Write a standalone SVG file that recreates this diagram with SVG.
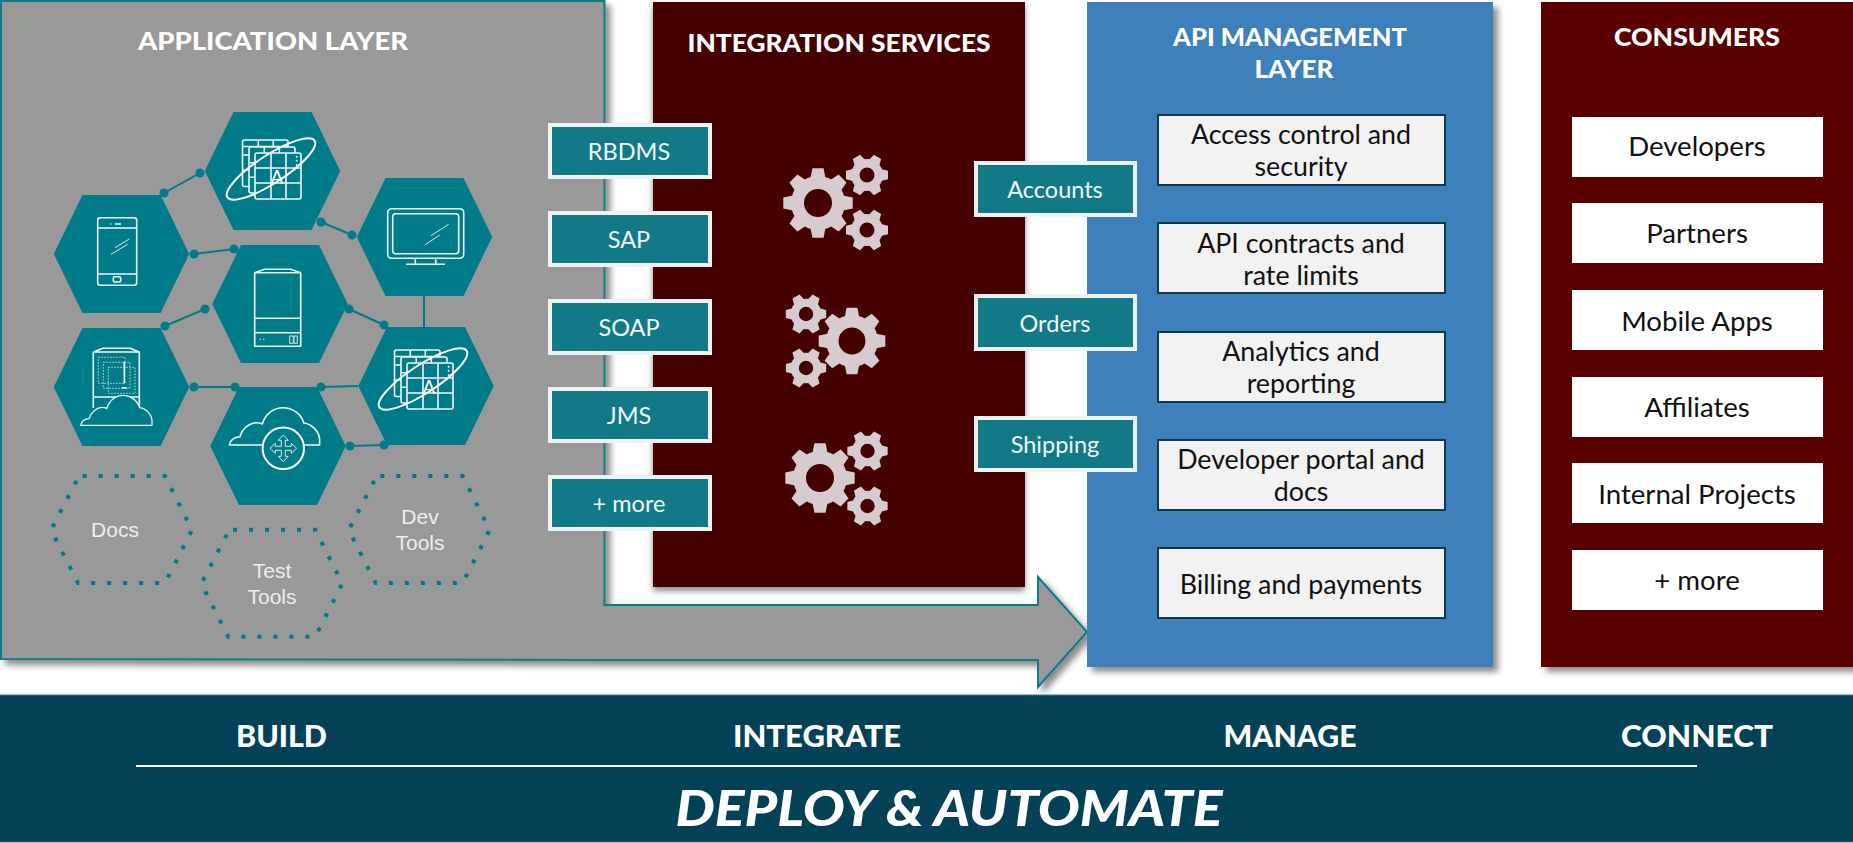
<svg xmlns="http://www.w3.org/2000/svg" xmlns:xlink="http://www.w3.org/1999/xlink" width="1853" height="843" viewBox="0 0 1853 843">
<style>
text{font-family:"Lato","Open Sans","Liberation Sans",sans-serif;text-anchor:middle}
.title{font-size:25px;font-weight:900;fill:#fff}
.stage{font-size:30px;font-weight:900;fill:#fff}
.tagt{font-size:23.5px;fill:#f2f7f8}
.boxt{font-size:26.8px;fill:#111}
.ct{font-size:27.6px;fill:#111}
.hext{font-family:"Liberation Sans",Arial,sans-serif;font-size:21px;fill:#eee}
.tag{fill:#127a87;stroke:#f1f1f1;stroke-width:4}
.api{fill:#f2f2f2;stroke:#0d3a4a;stroke-width:2}
.cons{fill:#fff}
.hex{fill:#007b8a}
.ic{fill:none;stroke:#eef6f7;stroke-width:1.6;stroke-linejoin:round}
.icf{fill:#007b8a;stroke:#eef6f7;stroke-width:1.6;stroke-linejoin:round}
.thin{fill:none;stroke:#d5e8eb;stroke-width:1}
.dotted{fill:none;stroke:#c3dadd;stroke-width:1;stroke-dasharray:1.5 1.5}
.dh{fill:none;stroke:#007b8a;stroke-width:4;stroke-dasharray:4 12;stroke-dashoffset:-3.7}
.gear{fill:#d6cbce}
.conn{stroke:#007b8a;stroke-width:2;fill:none}
</style>
<defs>
<filter id="sh" x="-5%" y="-5%" width="110%" height="110%"><feDropShadow dx="5" dy="5" stdDeviation="3" flood-color="#000" flood-opacity=".45"/></filter>
<filter id="shm" x="-5%" y="-5%" width="110%" height="110%"><feDropShadow dx="0" dy="4" stdDeviation="3" flood-color="#000" flood-opacity=".45"/></filter>
<marker id="dot" markerUnits="userSpaceOnUse" markerWidth="10" markerHeight="10" refX="5" refY="5"><circle cx="5" cy="5" r="4.5" fill="#007b8a"/></marker>
<polygon id="hx" class="hex" points="-67.75,0 -39,-59 39,-59 67.75,0 39,59 -39,59"/>
<polygon id="dhx" class="dh" points="79,476 165,476 192,530 165,583 78,583 51,530"/>
<path id="t8" d="M-7.5 -25 L-5.6 -34.7 L5.6 -34.7 L7.5 -25Z"/>
<g id="bg" class="gear">
<path d="M0 -27A27 27 0 1 1 0 27A27 27 0 1 1 0 -27ZM0 -14A14 14 0 1 0 0 14A14 14 0 1 0 0 -14Z"/>
<use href="#t8"/><use href="#t8" transform="rotate(45)"/><use href="#t8" transform="rotate(90)"/><use href="#t8" transform="rotate(135)"/><use href="#t8" transform="rotate(180)"/><use href="#t8" transform="rotate(225)"/><use href="#t8" transform="rotate(270)"/><use href="#t8" transform="rotate(315)"/>
</g>
<path id="t6" d="M-6 -14 L-4.2 -21 L4.2 -21 L6 -14Z"/>
<g id="sg" class="gear">
<path d="M0 -16A16 16 0 1 1 0 16A16 16 0 1 1 0 -16ZM0 -7.5A7.5 7.5 0 1 0 0 7.5A7.5 7.5 0 1 0 0 -7.5Z"/>
<use href="#t6" transform="rotate(30)"/><use href="#t6" transform="rotate(90)"/><use href="#t6" transform="rotate(150)"/><use href="#t6" transform="rotate(210)"/><use href="#t6" transform="rotate(270)"/><use href="#t6" transform="rotate(330)"/>
</g>
<path id="cloud" class="icf" d="M0 0C1 -5 5 -8 10.7 -8.3C13 -17 21 -22.3 26.7 -22.3C29 -22.3 31 -22 33 -21C36 -31 44 -37.3 53.7 -37.3C63 -37.3 72 -31 74.5 -22C83 -21 90.3 -13 90.3 -5L90.3 0Z"/>
<g id="sheets">
<rect class="icf" x="242.5" y="140" width="45.5" height="46.5" rx="2"/>
<path class="ic" d="M258.3 140V146.5M273.3 140V146.5M288 146.5H242.5M242.5 155H249M242.5 170H249"/>
<rect class="icf" x="249" y="147" width="46" height="46" rx="2"/>
<path class="ic" d="M264.3 147V153M279.3 147V153M249 162.7H255M249 177.3H255"/>
<rect class="icf" x="255" y="153" width="46" height="46" rx="2"/>
<path class="ic" d="M271 153V199M286 153V199M255 168H301M255 183H301"/>
<path d="M296.7 156.7v.1M296.7 160.7v.1M296.7 165v.1" stroke="#eef6f7" stroke-width="2" stroke-linecap="round"/>
<ellipse cx="271" cy="169" rx="52" ry="14" transform="rotate(-33 271 169)" fill="none" stroke="#fff" stroke-width="2"/>
</g>
</defs>

<g id="application-layer">
<path d="M1 1H604.5V605H1038V577L1087 632L1038 687V660H604L1 659Z" fill="#999" stroke="#0f7c8a" stroke-width="2" filter="url(#sh)"/>
<text class="title" x="273" y="50" textLength="270" lengthAdjust="spacingAndGlyphs">APPLICATION LAYER</text>
</g>
<g id="integration-services">
<rect x="653" y="2" width="372" height="585" fill="#450003" filter="url(#shm)"/>
<text class="title" x="839" y="52" textLength="303" lengthAdjust="spacingAndGlyphs">INTEGRATION SERVICES</text>
<g id="gears-1"><use href="#bg" x="818" y="203"/><use href="#sg" x="867" y="175"/><use href="#sg" x="867" y="230"/></g>
<g id="gears-2"><use href="#bg" transform="translate(852 341) scale(.96)"/><use href="#sg" transform="translate(806 314) scale(.96)"/><use href="#sg" transform="translate(806 368) scale(.96)"/></g>
<g id="gears-3"><use href="#bg" x="820" y="478"/><use href="#sg" transform="translate(867.5 451) scale(.96)"/><use href="#sg" transform="translate(867.5 506) scale(.96)"/></g>
</g>
<g id="api-management-layer">
<rect x="1087" y="2" width="406" height="665" fill="#3d80bb" filter="url(#sh)"/>
<text class="title" x="1290" y="46" textLength="234" lengthAdjust="spacingAndGlyphs">API MANAGEMENT</text>
<text class="title" x="1294" y="78" textLength="79" lengthAdjust="spacingAndGlyphs">LAYER</text>
</g>
<g id="consumers">
<rect x="1541" y="2" width="320" height="665" fill="#5a0000" filter="url(#sh)"/>
<text class="title" x="1697" y="46" textLength="166" lengthAdjust="spacingAndGlyphs">CONSUMERS</text>
</g>
<g id="stages">
<rect x="-2" y="695" width="1857" height="147" fill="#034256" stroke="#4a7482" stroke-width="1"/>
<text class="stage" x="281.5" y="747" textLength="91" lengthAdjust="spacingAndGlyphs">BUILD</text>
<text class="stage" x="817" y="747" textLength="168" lengthAdjust="spacingAndGlyphs">INTEGRATE</text>
<text class="stage" x="1290" y="747" textLength="133" lengthAdjust="spacingAndGlyphs">MANAGE</text>
<text class="stage" x="1697" y="747" textLength="152" lengthAdjust="spacingAndGlyphs">CONNECT</text>
<line x1="136" y1="766" x2="1697" y2="766" stroke="#fff" stroke-width="2"/>
<text x="949" y="826" font-size="50" font-weight="900" font-style="italic" fill="#fff" textLength="547" lengthAdjust="spacingAndGlyphs">DEPLOY &amp; AUTOMATE</text>
</g>

<g id="hex-app-1"><use href="#hx" x="272.5" y="171"/><use href="#sheets"/><text x="277" y="184" font-size="19" fill="#fff">A</text></g>
<g id="hex-phone"><use href="#hx" x="121.5" y="254"/>
<rect class="ic" x="97.7" y="217.7" width="39" height="67.6" rx="2.5"/>
<path class="ic" d="M97.7 228H136.7M97.7 274H136.7M115 224H121M110.5 224H111.5"/>
<rect class="ic" x="113.3" y="276.7" width="7.4" height="5.3" rx="1.5"/>
<path class="thin" d="M115 247.7L129.3 239M111 254.3L127.7 244.3"/></g>
<g id="hex-monitor"><use href="#hx" x="424.5" y="237"/>
<rect class="ic" x="387.7" y="208.7" width="76" height="49.6" rx="4"/>
<rect class="ic" x="392.7" y="213.7" width="66" height="40" rx="3"/>
<path class="ic" d="M415.3 258.3V264.3M435.7 258.3V264.3M406 264.3H445"/>
<path class="thin" d="M431 235.7L448.7 224.3M425.3 244.7L439.7 235"/></g>
<g id="hex-server"><use href="#hx" x="280" y="304"/>
<path class="ic" d="M254.7 272.7L264.7 269.3H290.7L300.7 272.7V346.3H254.7ZM254.7 272.7H300.7M254.7 318.3H300.7M254.7 332.7H300.7"/>
<path class="thin" d="M289.7 336H293.3V343.3H289.7ZM294 336H297.3V343.3H294ZM259.5 339.3h1.5M263 339.3h1.5"/></g>
<g id="hex-cylinder-cloud"><use href="#hx" x="121.5" y="387"/>
<path class="ic" d="M93.3 352L103 348.3H130L139.3 352V408M93.3 352V408M93.3 352H139.3M93.3 397H139.3"/>
<rect class="dotted" x="98.3" y="357.3" width="26.7" height="26"/>
<rect class="dotted" x="103.3" y="362.3" width="26.7" height="26"/>
<rect class="dotted" x="108.3" y="367.3" width="26.7" height="26"/>
<path class="ic" d="M124.3 361.7V383.3M121.7 387.7H126.7"/>
<use href="#cloud" transform="translate(80.7 425.3) scale(.79 .8)"/></g>
<g id="hex-app-2"><use href="#hx" x="426" y="386"/><use href="#sheets" transform="translate(152 210)"/><text x="429" y="394" font-size="19" fill="#fff">A</text></g>
<g id="hex-cloud"><use href="#hx" x="278" y="446"/>
<use href="#cloud" x="229.3" y="445"/>
<circle cx="283.3" cy="448.3" r="20.7" fill="#007b8a" stroke="#fff" stroke-width="2"/>
<path class="thin" transform="translate(283.3 448.3)" d="M-2 -8L-2 -2L-8 -2L-8 -5L-13.3 0L-8 5L-8 2L-2 2L-2 8L-5 8L0 13.3L5 8L2 8L2 2L8 2L8 5L13.3 0L8 -5L8 -2L2 -2L2 -8L5 -8L0 -13.3L-5 -8Z"/></g>
<g id="hex-docs"><use href="#dhx"/><text class="hext" x="115" y="537">Docs</text></g>
<g id="hex-test-tools"><use href="#dhx" x="150.3" y="53.7"/><text class="hext" x="272" y="578">Test</text><text class="hext" x="272" y="604">Tools</text></g>
<g id="hex-dev-tools"><use href="#dhx" x="297.7"/><text class="hext" x="420" y="524">Dev</text><text class="hext" x="420" y="550">Tools</text></g>

<g id="connectors" class="conn">
<line x1="164" y1="193" x2="200" y2="173" marker-start="url(#dot)" marker-end="url(#dot)"/>
<line x1="194" y1="254" x2="234" y2="249" marker-start="url(#dot)" marker-end="url(#dot)"/>
<line x1="321" y1="222" x2="352" y2="235" marker-start="url(#dot)" marker-end="url(#dot)"/>
<line x1="165" y1="326" x2="205" y2="309" marker-start="url(#dot)" marker-end="url(#dot)"/>
<line x1="349" y1="309" x2="384" y2="325" marker-start="url(#dot)" marker-end="url(#dot)"/>
<line x1="194" y1="387" x2="235" y2="387" marker-start="url(#dot)" marker-end="url(#dot)"/>
<line x1="321" y1="387" x2="358" y2="386" marker-start="url(#dot)"/>
<line x1="350" y1="446" x2="384" y2="445" marker-start="url(#dot)" marker-end="url(#dot)"/>
<line x1="424" y1="296" x2="424" y2="327"/>
</g>

<g id="tag-rbdms"><rect class="tag" x="550" y="125" width="160" height="52"/><text class="tagt" x="629" y="160">RBDMS</text></g>
<g id="tag-sap"><rect class="tag" x="550" y="213" width="160" height="52"/><text class="tagt" x="629" y="248">SAP</text></g>
<g id="tag-soap"><rect class="tag" x="550" y="301" width="160" height="52"/><text class="tagt" x="629" y="336">SOAP</text></g>
<g id="tag-jms"><rect class="tag" x="550" y="389" width="160" height="52"/><text class="tagt" x="629" y="424">JMS</text></g>
<g id="tag-more"><rect class="tag" x="550" y="477" width="160" height="52"/><text class="tagt" x="629" y="512">+ more</text></g>
<g id="tag-accounts"><rect class="tag" x="976" y="163" width="159" height="52"/><text class="tagt" x="1055" y="198">Accounts</text></g>
<g id="tag-orders"><rect class="tag" x="976" y="296" width="159" height="53"/><text class="tagt" x="1055" y="332">Orders</text></g>
<g id="tag-shipping"><rect class="tag" x="976" y="418" width="159" height="52"/><text class="tagt" x="1055" y="453">Shipping</text></g>

<g id="api-access"><rect class="api" x="1158" y="115" width="287" height="70"/><text class="boxt" x="1301" y="144">Access control and</text><text class="boxt" x="1301" y="176">security</text></g>
<g id="api-contracts"><rect class="api" x="1158" y="223" width="287" height="70"/><text class="boxt" x="1301" y="253">API contracts and</text><text class="boxt" x="1301" y="285">rate limits</text></g>
<g id="api-analytics"><rect class="api" x="1158" y="332" width="287" height="70"/><text class="boxt" x="1301" y="361">Analytics and</text><text class="boxt" x="1301" y="393">reporting</text></g>
<g id="api-portal"><rect class="api" x="1158" y="440" width="287" height="70"/><text class="boxt" x="1301" y="469">Developer portal and</text><text class="boxt" x="1301" y="501">docs</text></g>
<g id="api-billing"><rect class="api" x="1158" y="548" width="287" height="70"/><text class="boxt" x="1301" y="594">Billing and payments</text></g>

<g id="c-developers"><rect class="cons" x="1572" y="117" width="251" height="60"/><text class="ct" x="1697" y="156">Developers</text></g>
<g id="c-partners"><rect class="cons" x="1572" y="203" width="251" height="60"/><text class="ct" x="1697" y="243">Partners</text></g>
<g id="c-mobile"><rect class="cons" x="1572" y="290" width="251" height="60"/><text class="ct" x="1697" y="331">Mobile Apps</text></g>
<g id="c-affiliates"><rect class="cons" x="1572" y="377" width="251" height="60"/><text class="ct" x="1697" y="417">Affiliates</text></g>
<g id="c-internal"><rect class="cons" x="1572" y="463" width="251" height="60"/><text class="ct" x="1697" y="504">Internal Projects</text></g>
<g id="c-more"><rect class="cons" x="1572" y="550" width="251" height="60"/><text class="ct" x="1697" y="590">+ more</text></g>
</svg>
